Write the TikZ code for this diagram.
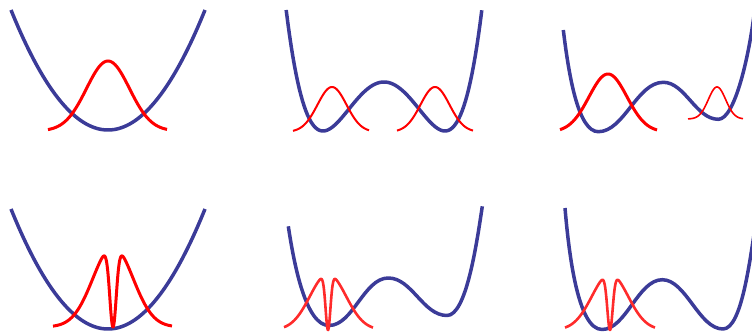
\documentclass[tikz,border=0pt]{standalone}
\definecolor{potblue}{HTML}{3B3B98}
\definecolor{wfred}{HTML}{FF0000}
\definecolor{wflight}{HTML}{FF2B2B}
\tikzset{
  pot/.style={draw=potblue, line width=3.5pt, line join=round},
  wf/.style={draw=wfred, line width=3pt, line join=round},
  wfthin/.style={draw=wfred, line width=2pt, line join=round},
  wfhair/.style={draw=wfred, line width=1.6pt, line join=round},
  wfl/.style={draw=wflight, line width=2.6pt, line join=round},
}
\begin{document}
\begin{tikzpicture}[x=1pt, y=-1pt]
\useasboundingbox (0,0) rectangle (752,335);
\clip (0,0) rectangle (752,335);

% ---------- Panel 1: harmonic well, Gaussian ground state
\draw[pot] plot[domain=-97:97, samples=80] ({108+\x}, {130 - 0.01275*\x*\x});
\draw[wf] plot[domain=-60:59, samples=100] ({108+\x}, {131 - 70*exp(-\x*\x/924.5)});

% ---------- Panel 2: symmetric double well
\draw[pot] plot[domain=-1.6036:1.6036, samples=120] ({384+61*\x}, {131 - 49*(\x*\x-1)*(\x*\x-1)});
\draw[wfthin] plot[domain=-39:37, samples=80] ({332+\x}, {132 - 45*exp(-\x*\x/420.5)});
\draw[wfthin] plot[domain=-38:38, samples=80] ({435+\x}, {132 - 45*exp(-\x*\x/420.5)});

% ---------- Panel 3: asymmetric double well
\coordinate (p3s) at (563.3,30);
\coordinate (p3a) at (598.3,131.7);
\coordinate (p3b) at (663.3,82.3);
\coordinate (p3c) at (718.3,119.3);
\coordinate (p3e) at (754,15);
\draw[pot] (p3s) .. controls (568.8,75) and (578,131.7) .. (p3a)
  .. controls (624,131.7) and (637,82.3) .. (p3b)
  .. controls (685,82.3) and (696,119.3) .. (p3c)
  .. controls (735,119.3) and (749,55) .. (p3e);
\draw[wf] plot[domain=-48:49, samples=100] ({608+\x}, {132 - 58*exp(-\x*\x/722)});
\draw[wfhair] plot[domain=-29:26, samples=80] ({717+\x}, {119 - 32*exp(-\x*\x/151)});

% ---------- Panel 4: harmonic well, notched state
\draw[pot] plot[domain=-97:97, samples=80] ({108+\x}, {329 - 0.01275*\x*\x});
\draw[wf] plot[domain=-60:59, samples=300] ({113+\x}, {327 - 80.6*exp(-\x*\x/800)*(1-exp(-\x*\x/21.78))});

% ---------- Panel 5: tilted double well, notched state on left
\coordinate (p5s) at (288.3,226.3);
\coordinate (p5a) at (329,325.5);
\coordinate (p5b) at (388.3,278);
\coordinate (p5c) at (447,315.5);
\coordinate (p5e) at (482.3,206.3);
\draw[pot] (p5s) .. controls (294.3,266) and (306,325.5) .. (p5a)
  .. controls (353,325.5) and (364,278) .. (p5b)
  .. controls (412,278) and (423,315.5) .. (p5c)
  .. controls (466,315.5) and (476.3,246.3) .. (p5e);
\draw[wfl] plot[domain=-44:45, samples=300] ({328+\x}, {330 - 56*exp(-\x*\x/648)*(1-exp(-\x*\x/12))});

% ---------- Panel 6: double well, notched state on left
\coordinate (p6s) at (565,208);
\coordinate (p6a) at (602,329.5);
\coordinate (p6b) at (662.3,279.7);
\coordinate (p6c) at (723,329);
\coordinate (p6e) at (756,222);
\draw[pot] (p6s) .. controls (569,255) and (578,329.5) .. (p6a)
  .. controls (626,329.5) and (638,279.7) .. (p6b)
  .. controls (686,279.7) and (699,329) .. (p6c)
  .. controls (742,329) and (750,258) .. (p6e);
\draw[wfl] plot[domain=-45:45, samples=300] ({610+\x}, {330 - 56*exp(-\x*\x/648)*(1-exp(-\x*\x/15))});
\end{tikzpicture}
\end{document}
